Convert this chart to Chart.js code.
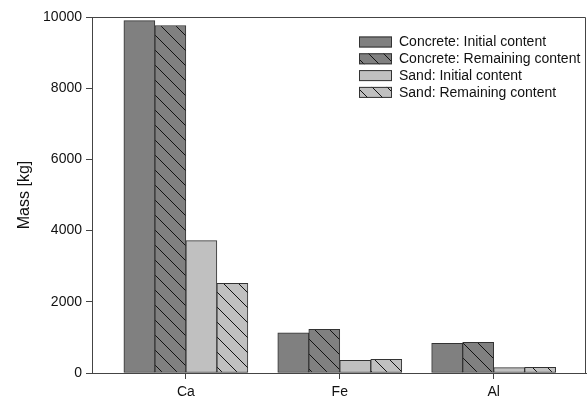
<!DOCTYPE html>
<html>
<head>
<meta charset="utf-8">
<script src="https://cdn.jsdelivr.net/npm/chart.js@4/dist/chart.umd.min.js"></script>
<style>
  html, body { margin: 0; padding: 0; background: #fff; }
  #wrap { width: 587px; height: 399px; }
</style>
</head>
<body>
<div id="wrap"><canvas id="massChart"></canvas></div>
<script>
const categories = ['Ca', 'Fe', 'Al'];
const concreteInitial = [9900, 1130, 830];
const concreteRemaining = [9760, 1225, 860];
const sandInitial = [3720, 355, 150];
const sandRemaining = [2520, 385, 160];
const yTicks = [0, 2000, 4000, 6000, 8000, 10000];

const FONT = "'Liberation Sans', Arial, sans-serif";
const AXIS = '#444';

// diagonal "\" hatch on a fill colour
function hatch(bg) {
    const s = 15;
    const c = document.createElement('canvas');
    c.width = s; c.height = s;
    const g = c.getContext('2d');
    g.fillStyle = bg;
    g.fillRect(0, 0, s, s);
    g.strokeStyle = '#111';
    g.lineWidth = 1;
    for (const off of [-s, 0, s]) {
        g.beginPath();
        g.moveTo(off, 0);
        g.lineTo(off + s, s);
        g.stroke();
    }
    return g.createPattern(c, 'repeat');
}

const toPoints = arr => arr.map((v, i) => ({ x: i, y: v }));

// top + right frame lines
const framePlugin = {
    id: 'frame',
    afterDraw(chart) {
        const { ctx, chartArea: a } = chart;
        ctx.save();
        ctx.strokeStyle = AXIS;
        ctx.lineWidth = 1;
        ctx.beginPath();
        ctx.moveTo(a.left, a.top + 0.5);
        ctx.lineTo(a.right - 0.5, a.top + 0.5);
        ctx.lineTo(a.right - 0.5, a.bottom);
        ctx.stroke();
        ctx.restore();
    }
};

// legend drawn inside the plot, top right
const insideLegend = {
    id: 'insideLegend',
    afterDraw(chart) {
        const { ctx, chartArea: a } = chart;
        const x0 = a.right - 227, y0 = a.top + 25, step = 16.8;
        ctx.save();
        ctx.font = '14px ' + FONT;
        ctx.textBaseline = 'middle';
        chart.data.datasets.forEach((ds, i) => {
            const y = y0 + i * step;
            ctx.fillStyle = ds.backgroundColor;
            ctx.fillRect(x0, y - 5.5, 33, 11);
            ctx.strokeStyle = '#333';
            ctx.lineWidth = 1;
            ctx.strokeRect(x0 + 0.5, y - 5.5 + 0.5, 32, 10);
            ctx.fillStyle = '#111';
            ctx.fillText(ds.label, x0 + 40, y + 0.5);
        });
        ctx.restore();
    }
};

new Chart(document.getElementById('massChart'), {
    type: 'bar',
    data: {
        datasets: [
            { label: 'Concrete: Initial content', data: toPoints(concreteInitial), backgroundColor: '#808080' },
            { label: 'Concrete: Remaining content', data: toPoints(concreteRemaining), backgroundColor: hatch('#808080') },
            { label: 'Sand: Initial content', data: toPoints(sandInitial), backgroundColor: '#c0c0c0' },
            { label: 'Sand: Remaining content', data: toPoints(sandRemaining), backgroundColor: hatch('#c0c0c0') }
        ]
    },
    options: {
        responsive: true,
        maintainAspectRatio: false,
        animation: false,
        layout: { padding: { left: 0, right: 1, top: 17, bottom: 0 } },
        datasets: { bar: { barThickness: 31, borderWidth: 1, borderColor: '#333', borderSkipped: false } },
        plugins: { legend: { display: false }, tooltip: { enabled: false } },
        scales: {
            x: {
                type: 'linear',
                min: -0.61,
                max: 2.6,
                offset: false,
                afterBuildTicks: s => { s.ticks = categories.map((c, i) => ({ value: i })); },
                afterFit: s => { s.height = 26; },
                ticks: {
                    callback: v => categories[v],
                    color: '#111',
                    padding: 5,
                    font: { family: FONT, size: 14 }
                },
                grid: { drawOnChartArea: false, offset: false, tickLength: 6, color: AXIS },
                border: { color: AXIS }
            },
            y: {
                min: 0,
                max: 10000,
                afterBuildTicks: s => { s.ticks = yTicks.map(v => ({ value: v })); },
                afterFit: s => { s.width = 92; },
                ticks: {
                    callback: v => String(v),
                    color: '#111',
                    padding: 4,
                    font: { family: FONT, size: 14 }
                },
                grid: { drawOnChartArea: false, tickLength: 6, color: AXIS },
                border: { color: AXIS },
                title: {
                    display: true,
                    text: 'Mass [kg]',
                    color: '#111',
                    padding: { top: 15, bottom: 0 },
                    font: { family: FONT, size: 16 }
                }
            }
        }
    },
    plugins: [framePlugin, insideLegend]
});
</script>
</body>
</html>
